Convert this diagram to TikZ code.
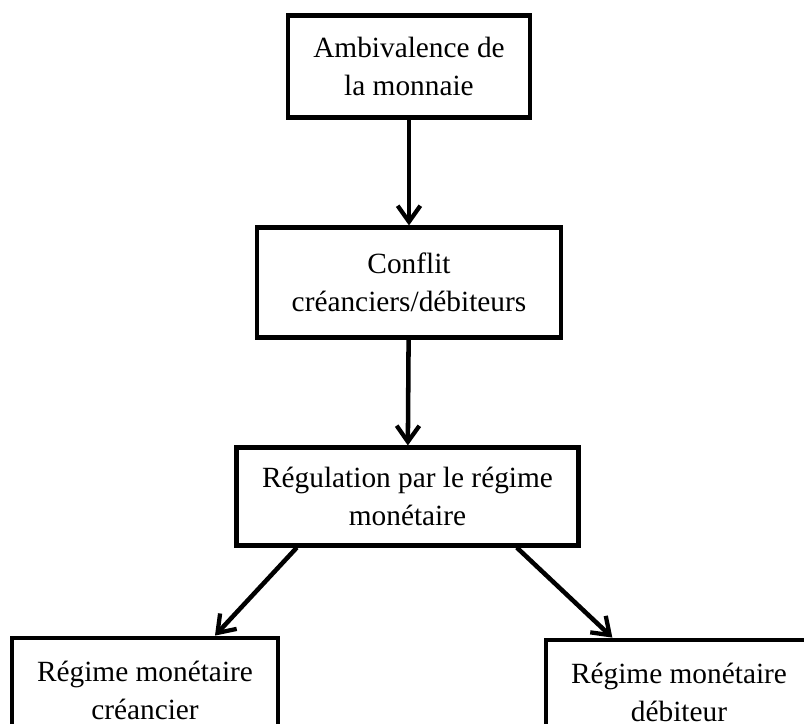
\documentclass[tikz,border=0pt]{standalone}
\usepackage{fontspec}
\setmainfont{Liberation Serif}
\usetikzlibrary{arrows.meta}
\tikzset{
  boite/.style={draw, line width=3.6pt, align=center, inner sep=0pt,
    font=\fontsize{22}{28.5}\selectfont},
  fleche/.style={-{Straight Barb[length=12pt,width=17pt,line width=3.2pt]}, line width=3.4pt}
}
\begin{document}
\begin{tikzpicture}[x=0.75pt,y=-0.75pt]
            \useasboundingbox (0,0) rectangle (804,724);
            \clip (0,0) rectangle (804,724);
            \node[boite, minimum width=181.5pt, minimum height=77pt] (amb) at (409,66.5) {Ambivalence de\\la monnaie};
            \node[boite, minimum width=228pt, minimum height=82pt] (conflit) at (409,282.5) {Conflit\\créanciers/débiteurs};
            \node[boite, minimum width=257pt, minimum height=73pt] (regul) at (407.5,496.5) {Régulation par le régime\\monétaire};
            \node[boite, minimum width=199.5pt, minimum height=78pt] (crean) at (145,690) {Régime monétaire\\créancier};
            \node[boite, minimum width=199.5pt, minimum height=78pt] (debit) at (679,692) {Régime monétaire\\débiteur};
            \draw[fleche] (amb) -- (conflit);
            \draw[fleche] (conflit) -- (regul);
            \draw[fleche] ([xshift=-83pt]regul.south) -- ([xshift=52.5pt]crean.north);
            \draw[fleche] ([xshift=82pt]regul.south) -- ([xshift=-50pt]debit.north);
        \end{tikzpicture}
\end{document}
